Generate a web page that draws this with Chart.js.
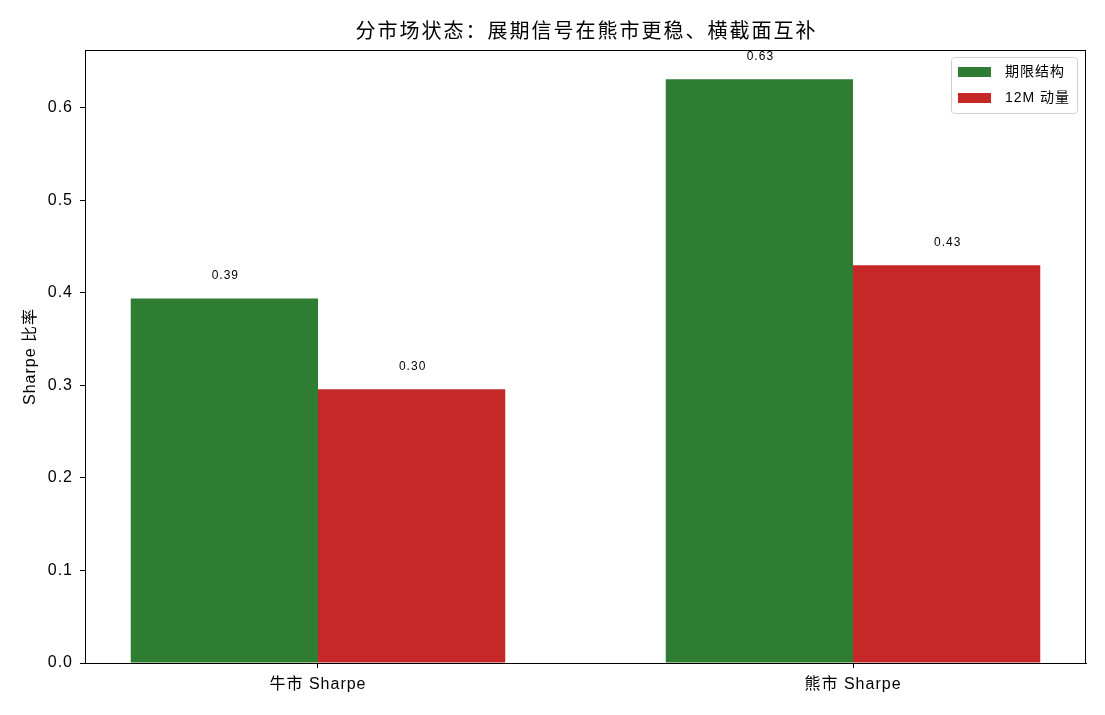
<!DOCTYPE html>
<html>
<head>
<meta charset="utf-8">
<script src="https://cdn.jsdelivr.net/npm/chart.js@4.4.1/dist/chart.umd.min.js"></script>
<style>
  html, body { margin: 0; padding: 0; background: #fff; }
  #wrap { width: 1105px; height: 715px; }
</style>
</head>
<body>
<div id="wrap"><canvas id="myChart" width="1105" height="715"></canvas></div>
<script>
const categories = ["牛市 Sharpe", "熊市 Sharpe"];
const termStructure = [0.394, 0.631];
const momentum12M = [0.296, 0.430];
const seriesNames = ["期限结构", "12M 动量"];
const yTicks = [0.0, 0.1, 0.2, 0.3, 0.4, 0.5, 0.6];
const titleText = "分市场状态：展期信号在熊市更稳、横截面互补";

const FONT = "'Liberation Sans', Arial, 'Noto Sans CJK SC', sans-serif";
const green = "#2e7d32";
const red = "#c62828";

// widen glyph spacing like the reference renderer
const spacing = {
  id: "spacing",
  beforeDraw(chart) { chart.ctx.letterSpacing = "1px"; }
};

// title, frame, value labels and legend
const extras = {
  id: "extras",
  afterDraw(chart) {
    const ctx = chart.ctx;
    const a = chart.chartArea;
    ctx.save();
    ctx.fillStyle = "#000";
    ctx.letterSpacing = "2px";
    ctx.font = "20px " + FONT;
    ctx.textAlign = "center";
    ctx.textBaseline = "middle";
    ctx.fillText(titleText, (a.left + a.right) / 2 + 1, 32);

    ctx.letterSpacing = "1px";
    ctx.strokeStyle = "#000";
    ctx.lineWidth = 1;
    ctx.strokeRect(a.left + 0.5, a.top + 0.5, a.right - a.left - 1, a.bottom - a.top);

    ctx.font = "12px " + FONT;
    chart.data.datasets.forEach((ds, i) => {
      chart.getDatasetMeta(i).data.forEach((bar, j) => {
        ctx.fillText(ds.data[j].y.toFixed(2), bar.x + 1, bar.y - 23);
      });
    });

    // legend
    const lx = 951, ly = 57, lw = 126, lh = 56;
    ctx.fillStyle = "rgba(255,255,255,0.8)";
    ctx.strokeStyle = "#d0d0d0";
    ctx.beginPath();
    ctx.roundRect(lx + 0.5, ly + 0.5, lw, lh, 3);
    ctx.fill();
    ctx.stroke();
    ctx.font = "14px " + FONT;
    ctx.textAlign = "left";
    [green, red].forEach((c, i) => {
      const cy = ly + 15 + i * 26;
      ctx.fillStyle = c;
      ctx.fillRect(lx + 7, cy - 5, 33, 10);
      ctx.fillStyle = "#000";
      ctx.fillText(seriesNames[i], lx + 54, cy);
    });
    ctx.restore();
  }
};

new Chart(document.getElementById("myChart"), {
  type: "bar",
  data: {
    datasets: [
      {
        label: seriesNames[0],
        data: termStructure.map((v, i) => ({ x: i, y: v })),
        backgroundColor: green
      },
      {
        label: seriesNames[1],
        data: momentum12M.map((v, i) => ({ x: i, y: v })),
        backgroundColor: red
      }
    ]
  },
  options: {
    responsive: false,
    animation: false,
    categoryPercentage: 0.7,
    barPercentage: 1.0,
    layout: { padding: { top: 50, right: 19, left: 0, bottom: 0 } },
    plugins: { legend: { display: false }, tooltip: { enabled: false } },
    scales: {
      x: {
        type: "linear",
        offset: false,
        min: -0.4355,
        max: 1.4355,
        afterBuildTicks: (s) => { s.ticks = categories.map((c, i) => ({ value: i })); },
        afterFit: (s) => { s.height = 52; },
        grid: { offset: false, drawOnChartArea: false, drawTicks: true, tickLength: 5, tickColor: "#000" },
        border: { color: "#000" },
        ticks: {
          color: "#000",
          font: { family: FONT, size: 16 },
          padding: 7,
          maxRotation: 0,
          autoSkip: false,
          callback: (v) => categories[v] ?? ""
        }
      },
      y: {
        min: 0,
        max: 0.6627,
        afterBuildTicks: (s) => { s.ticks = yTicks.map(v => ({ value: v })); },
        afterFit: (s) => { s.width = 85; },
        grid: { drawOnChartArea: false, drawTicks: true, tickLength: 5, tickColor: "#000" },
        border: { color: "#000" },
        ticks: {
          color: "#000",
          font: { family: FONT, size: 16 },
          padding: 7,
          callback: (v) => v.toFixed(1)
        },
        title: {
          display: true,
          text: "Sharpe 比率",
          color: "#000",
          font: { family: FONT, size: 16 },
          padding: { top: 21, bottom: 0 }
        }
      }
    }
  },
  plugins: [spacing, extras]
});
</script>
</body>
</html>
